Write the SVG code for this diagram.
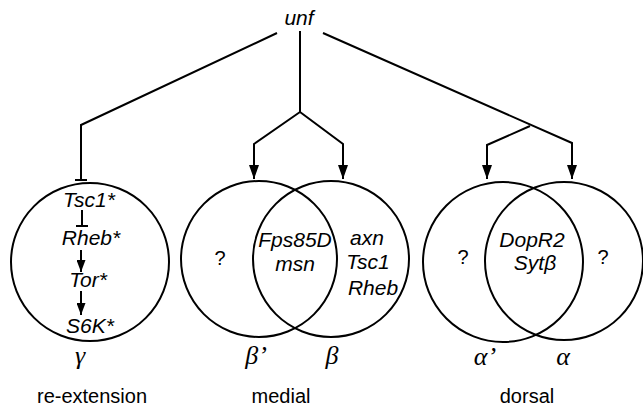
<svg xmlns="http://www.w3.org/2000/svg" width="643" height="410" viewBox="0 0 643 410">
<defs>
<marker id="ah" viewBox="0 0 14 10" refX="14" refY="5" markerWidth="14" markerHeight="10" markerUnits="userSpaceOnUse" orient="auto">
<path d="M0,0 L14,5 L0,10 Z" fill="#000"/>
</marker>
<marker id="ahs" viewBox="0 0 12 9" refX="12" refY="4.5" markerWidth="12" markerHeight="9" markerUnits="userSpaceOnUse" orient="auto">
<path d="M0,0 L12,4.5 L0,9 Z" fill="#000"/>
</marker>
</defs>
<style>
.ln{fill:none;stroke:#000;stroke-width:2}
.c{fill:none;stroke:#000;stroke-width:2}
.g{font-family:"Liberation Sans",Arial,sans-serif;font-style:italic;font-size:21px;fill:#000;text-anchor:middle}
.q{font-family:"Liberation Sans",Arial,sans-serif;font-size:20px;fill:#000;text-anchor:middle}
.gr{font-family:"Liberation Serif","Times New Roman",serif;font-style:italic;font-size:26px;fill:#000;text-anchor:middle}
.lb{font-family:"Liberation Sans",Arial,sans-serif;font-size:20px;fill:#000;text-anchor:middle}
</style>
<rect width="643" height="410" fill="#fff"/>
<g id="unf"><text class="g" x="299" y="25">unf</text></g>
<g id="connectors">
<polyline class="ln" points="277,33 81,125 81,180"/>
<line class="ln" x1="75" y1="180" x2="87" y2="180"/>
<line class="ln" x1="300" y1="31" x2="300" y2="112"/>
<polyline class="ln" points="300,112 254,144 254,179" marker-end="url(#ah)"/>
<polyline class="ln" points="300,112 343,144 343,179" marker-end="url(#ah)"/>
<polyline class="ln" points="323,33 572,143 572,179" marker-end="url(#ah)"/>
<polyline class="ln" points="530,126 487,145 487,179" marker-end="url(#ah)"/>
<line class="ln" x1="82" y1="210" x2="82" y2="226"/>
<line class="ln" x1="76" y1="226" x2="88" y2="226"/>
<line class="ln" x1="81" y1="250" x2="81" y2="272" marker-end="url(#ahs)"/>
<line class="ln" x1="81" y1="291" x2="81" y2="315" marker-end="url(#ahs)"/>
</g>
<g id="gamma">
<circle class="c" cx="90" cy="262" r="79"/>
<text class="g" x="89" y="207">Tsc1*</text>
<text class="g" x="91" y="245">Rheb*</text>
<text class="g" x="88" y="287">Tor*</text>
<text class="g" x="90" y="333">S6K*</text>
<text class="gr" x="80" y="364">γ</text>
<text class="lb" x="92" y="403">re-extension</text>
</g>
<g id="medial">
<circle class="c" cx="259" cy="259" r="78"/>
<circle class="c" cx="331" cy="259" r="78"/>
<text class="q" x="220" y="265">?</text>
<text class="g" x="295" y="247">Fps85D</text>
<text class="g" x="295" y="271">msn</text>
<text class="g" x="367" y="245">axn</text>
<text class="g" x="368" y="269">Tsc1</text>
<text class="g" x="373" y="295">Rheb</text>
<text class="gr" x="256" y="364">β’</text>
<text class="gr" x="332" y="364">β</text>
<text class="lb" x="281" y="403">medial</text>
</g>
<g id="dorsal">
<circle class="c" cx="503" cy="262" r="80"/>
<circle class="c" cx="564" cy="261" r="79"/>
<text class="q" x="463" y="264">?</text>
<text class="g" x="532" y="247">DopR2</text>
<text class="g" x="535" y="270">Sytβ</text>
<text class="q" x="603" y="264">?</text>
<text class="gr" x="485" y="365">α’</text>
<text class="gr" x="563" y="365">α</text>
<text class="lb" x="527" y="403">dorsal</text>
</g>
</svg>
